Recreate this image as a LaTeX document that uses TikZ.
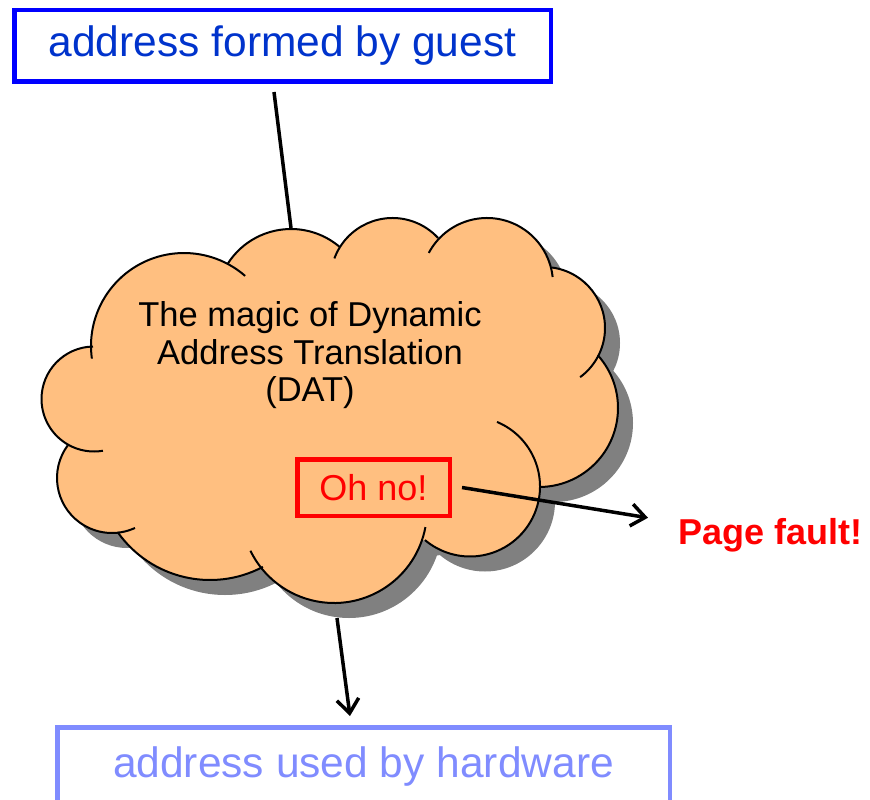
\documentclass[tikz,border=0pt]{standalone}
\usepackage{fontspec}
\setmainfont{Liberation Sans}
\usetikzlibrary{positioning,arrows.meta}

\definecolor{guestblue}{RGB}{0,0,255}
\definecolor{guesttext}{RGB}{0,51,204}
\definecolor{hwblue}{RGB}{128,140,255}
\definecolor{datfill}{RGB}{255,191,128}
\definecolor{datshadow}{RGB}{128,128,128}
\definecolor{faultred}{RGB}{255,0,0}

% cloud bumps: centre x / centre y / radius / start angle / end angle
\newcommand{\datbumps}{184/346/93/187.8/48.9, 291/304/75/147.6/49.3,
  392.5/280/62/159.6/42.7, 487/284/66/151.9/6.1, 544/328/61/82.5/-53.7,
  539/408/79/41.9/-89.3, 470/486.5/70/67.3/-130.1, 334/510/93/-10.6/-154,
  210/467/113/-62.1/-144.8, 112/478/55/143.7/294.7, 94/399/52.5/91.1/279.8}

\begin{document}
\begin{tikzpicture}[
    x=1pt, y=1pt,
    addrbox/.style={draw, line width=4.5pt, inner sep=0pt, font=\fontsize{42.5}{50}\selectfont},
    wire/.style={line width=3.5pt},
    barb/.style={-{Straight Barb[length=14pt,width=22pt]}}
]
\useasboundingbox (0,0) rectangle (870,-800);

% DAT cloud: shadow first, then the fill
\foreach \dx/\dy/\col in {15/-15/datshadow, 0/0/datfill} {
  \begin{scope}[shift={(\dx,\dy)}]
    \fill[\col] (228,-264) -- (340,-247) -- (438,-238) -- (552,-267) -- (598,-355)
      -- (540,-487) -- (425,-540) -- (263,-567) -- (118,-532) -- (67,-445)
      -- (93,-347) -- cycle;
    \foreach \cx/\cy/\rad/\a/\b in \datbumps
      \fill[\col] (\cx,-\cy) circle (\rad);
  \end{scope}
}
\foreach \cx/\cy/\rad/\a/\b in \datbumps
  \draw[line width=2pt] (\cx,-\cy) ++(\a:\rad) arc[start angle=\a, end angle=\b, radius=\rad];

\coordinate (cloudtop) at (291,-228);
\coordinate (cloudbot) at (337,-618);

\node[align=center, font=\fontsize{34.5}{37.5}\selectfont] (dat) at (310,-355.5)
  {The magic of Dynamic\\Address Translation\\(DAT)};
\node[draw=faultred, text=faultred, line width=4.5pt, minimum width=152.5pt, minimum height=56.5pt,
  font=\fontsize{36}{40}\selectfont] (ohno) at (373.5,-487.5) {Oh no!};
\node[text=faultred, inner sep=0pt, anchor=base west, font=\bfseries\fontsize{36}{40}\selectfont]
  (fault) at (678,-544) {Page fault!};

% addresses
\node[addrbox, draw=guestblue, text=guesttext, minimum width=536.5pt, minimum height=71.5pt]
  (guest) at (282.5,-46) {address formed by guest};
\node[addrbox, draw=hwblue, text=hwblue, minimum width=612.5pt, minimum height=79.5pt]
  (hw) at (363.5,-767) {address used by hardware};

\draw[wire] ([xshift=-8.5pt,yshift=-8pt]guest.south) -- (cloudtop);
\draw[wire, barb] (cloudbot) -- ([xshift=-13.5pt,yshift=9pt]hw.north);
\draw[wire, barb] ([xshift=10pt]ohno.east) -- ([xshift=-30pt,yshift=17pt]fault.west);
\end{tikzpicture}
\end{document}
